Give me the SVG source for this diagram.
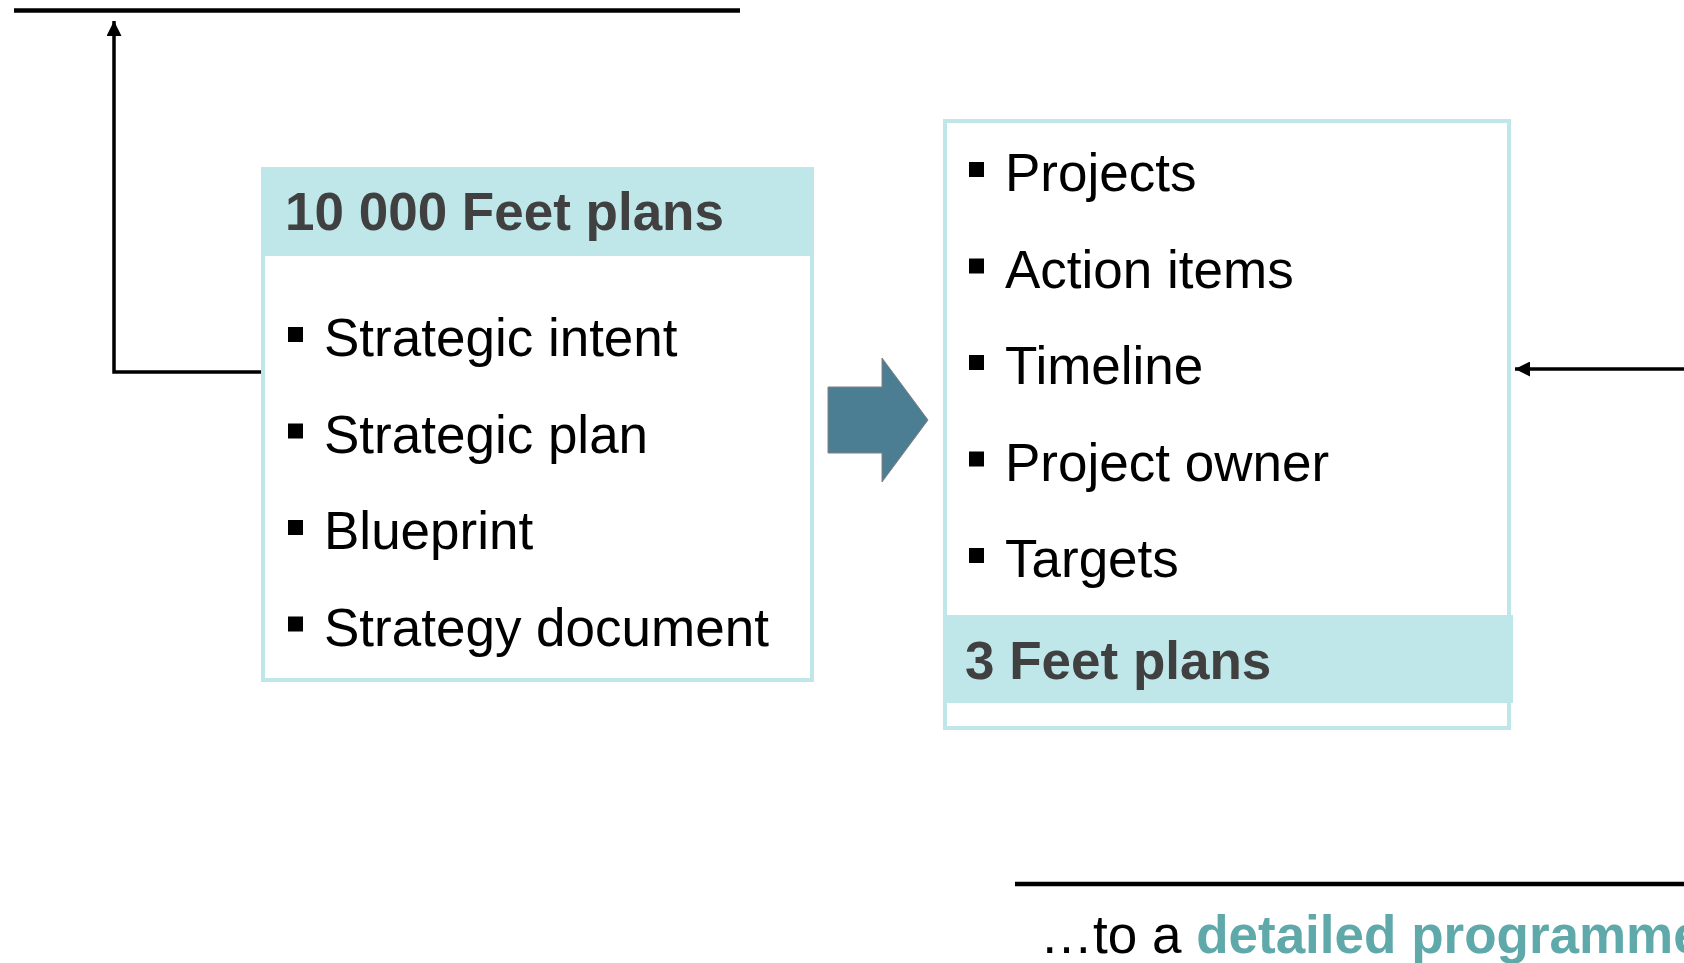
<svg xmlns="http://www.w3.org/2000/svg" width="1684" height="963" viewBox="0 0 1684 963">
<style>
.box{fill:#fff;stroke:#bfe7e9;stroke-width:4}
.band{fill:#bfe7e9}
.hdr{font-family:"Liberation Sans",Arial,sans-serif;font-weight:bold;font-size:53px;fill:#404040}
.item{font-family:"Liberation Sans",Arial,sans-serif;font-size:53px;fill:#000}
.bul{fill:#000}
.conn{fill:none;stroke:#000;stroke-width:3.5}
.rule{stroke:#000;stroke-width:4.5}
</style>
<defs>
<marker id="ah" viewBox="0 0 10 10" refX="10" refY="5" markerWidth="16" markerHeight="15" markerUnits="userSpaceOnUse" orient="auto">
<path d="M0,0 L10,5 L0,10 Z" fill="#000"/>
</marker>
</defs>
<line class="rule" x1="14" y1="10.5" x2="740" y2="10.5"/>
<line class="rule" x1="1015" y1="884" x2="1684" y2="884"/>
<g id="connectors">
<polyline class="conn" points="262,372 114,372 114,21" marker-end="url(#ah)"/>
<line class="conn" x1="1684" y1="369" x2="1515" y2="369" marker-end="url(#ah)"/>
</g>
<g id="left-box">
<rect class="box" x="263" y="169" width="549" height="511"/>
<rect class="band" x="261" y="167" width="553" height="89"/>
<text class="hdr" x="285" y="230">10 000 Feet plans</text>
<rect class="bul" x="288" y="327" width="15" height="15"/>
<text class="item" x="324" y="356">Strategic intent</text>
<rect class="bul" x="288" y="423.5" width="15" height="15"/>
<text class="item" x="324" y="452.5">Strategic plan</text>
<rect class="bul" x="288" y="520" width="15" height="15"/>
<text class="item" x="324" y="549">Blueprint</text>
<rect class="bul" x="288" y="616.5" width="15" height="15"/>
<text class="item" x="324" y="645.5">Strategy document</text>
</g>
<g id="mid-arrow">
<path d="M828,387 L882,387 L882,358 L928,420 L882,482 L882,453 L828,453 Z" fill="#4b7d93" stroke="#808080" stroke-width="1"/>
</g>
<g id="right-box">
<rect class="box" x="945" y="121" width="564" height="607"/>
<rect class="band" x="943" y="615" width="570" height="88"/>
<rect class="bul" x="969" y="162" width="15" height="15"/>
<text class="item" x="1005" y="191">Projects</text>
<rect class="bul" x="969" y="258.5" width="15" height="15"/>
<text class="item" x="1005" y="287.5">Action items</text>
<rect class="bul" x="969" y="355" width="15" height="15"/>
<text class="item" x="1005" y="384">Timeline</text>
<rect class="bul" x="969" y="451.5" width="15" height="15"/>
<text class="item" x="1005" y="480.5">Project owner</text>
<rect class="bul" x="969" y="548" width="15" height="15"/>
<text class="item" x="1005" y="577">Targets</text>
<text class="hdr" x="965" y="679">3 Feet plans</text>
</g>
<text class="item" x="1040" y="953" font-size="52">…to a <tspan font-weight="bold" fill="#60a9aa">detailed programme</tspan></text>
</svg>
